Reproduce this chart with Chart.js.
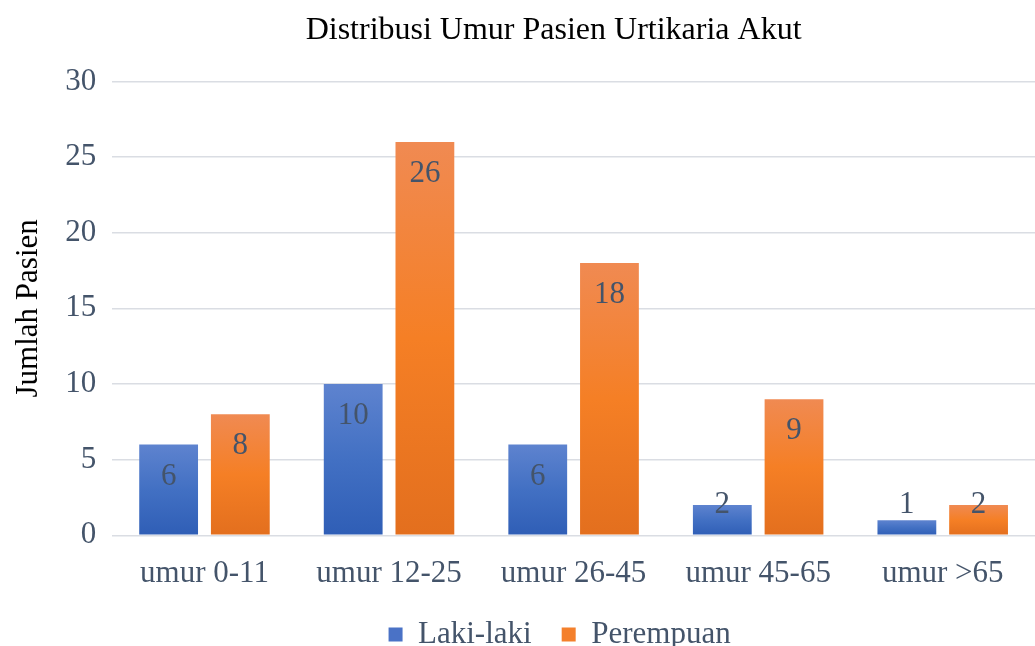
<!DOCTYPE html>
<html>
<head>
<meta charset="utf-8">
<script src="https://cdn.jsdelivr.net/npm/chart.js@4/dist/chart.umd.min.js"></script>
<style>
  html, body { margin: 0; padding: 0; background: #fff; }
</style>
</head>
<body>
<canvas id="chartUmur" width="1035" height="646"></canvas>
<script>
var categories = ['umur 0-11', 'umur 12-25', 'umur 26-45', 'umur 45-65', 'umur >65'];
var lakiLaki = [6, 10, 6, 2, 1];
var perempuan = [8, 26, 18, 9, 2];
var yTicks = [0, 5, 10, 15, 20, 25, 30];

var serif = '"Liberation Serif", "Times New Roman", serif';
var textColor = '#44546A';

function barGradient(colors) {
  return function(c) {
    var chart = c.chart;
    if (!chart.chartArea || c.raw === undefined) return colors[1];
    var y = chart.scales.y;
    var top = y.getPixelForValue(c.raw);
    var bottom = y.getPixelForValue(0);
    if (bottom - top < 1) return colors[1];
    var g = chart.ctx.createLinearGradient(0, top, 0, bottom);
    g.addColorStop(0, colors[0]);
    g.addColorStop(0.5, colors[1]);
    g.addColorStop(1, colors[2]);
    return g;
  };
}

// labels drawn just inside the top of each bar
var valueLabels = {
  id: 'valueLabels',
  afterDatasetsDraw: function(chart) {
    var ctx = chart.ctx;
    var base = chart.scales.y.getPixelForValue(0);
    ctx.save();
    ctx.font = '31px ' + serif;
    ctx.fillStyle = textColor;
    ctx.textAlign = 'center';
    ctx.textBaseline = 'middle';
    chart.data.datasets.forEach(function(ds, i) {
      chart.getDatasetMeta(i).data.forEach(function(bar, j) {
        var y = Math.min(bar.y + 32, base - 30);
        ctx.fillText(ds.data[j], bar.x, y);
      });
    });
    ctx.restore();
  }
};

// nudge title and legend a bit left, like the original
var nudgeBlocks = {
  id: 'nudgeBlocks',
  afterLayout: function(chart) {
    if (chart.titleBlock) chart.titleBlock.left -= 40;
    if (chart.legend) chart.legend.left -= 28;
  }
};

var ctx = document.getElementById('chartUmur').getContext('2d');
var chartUmur = new Chart(ctx, {
  type: 'bar',
  data: {
    labels: categories,
    datasets: [
      {
        label: 'Laki-laki',
        data: lakiLaki,
        backgroundColor: barGradient(['#5E83CF', '#4270C3', '#2F5EB6'])
      },
      {
        label: 'Perempuan',
        data: perempuan,
        backgroundColor: barGradient(['#F08A52', '#F57F25', '#E36F1E'])
      }
    ]
  },
  options: {
    responsive: false,
    animation: false,
    layout: { padding: { left: 10, right: 0, top: 2, bottom: 0 } },
    datasets: {
      bar: { categoryPercentage: 0.777, barPercentage: 0.82 }
    },
    plugins: {
      title: {
        display: true,
        fullSize: false,
        text: 'Distribusi Umur Pasien Urtikaria Akut',
        color: '#000',
        font: { family: serif, size: 32, weight: 'normal' },
        padding: { top: 9, bottom: 32 }
      },
      legend: {
        position: 'bottom',
        fullSize: false,
        maxHeight: 57,
        labels: {
          color: textColor,
          font: { family: serif, size: 31 },
          boxWidth: 14,
          boxHeight: 14,
          padding: 30,
          generateLabels: function(chart) {
            var solid = ['#4A72C6', '#F4802C'];
            return chart.data.datasets.map(function(ds, i) {
              return {
                text: ds.label,
                fillStyle: solid[i],
                strokeStyle: solid[i],
                lineWidth: 0,
                datasetIndex: i,
                fontColor: textColor
              };
            });
          }
        }
      },
      tooltip: { enabled: false }
    },
    scales: {
      x: {
        grid: { display: false },
        border: { display: false },
        afterFit: function(axis) { axis.height -= 15.5; },
        ticks: {
          color: textColor,
          font: { family: serif, size: 31 },
          padding: 12
        }
      },
      y: {
        min: 0,
        max: 30,
        afterBuildTicks: function(axis) {
          axis.ticks = yTicks.map(function(v) { return { value: v }; });
        },
        grid: { color: '#DADDE3', lineWidth: 1.5, drawTicks: false },
        border: { display: false },
        ticks: {
          color: textColor,
          font: { family: serif, size: 31 },
          padding: 16
        },
        title: {
          display: true,
          text: 'Jumlah Pasien',
          color: '#000',
          font: { family: serif, size: 31 },
          padding: { top: 0, bottom: 2 }
        }
      }
    }
  },
  plugins: [valueLabels, nudgeBlocks]
});
</script>
</body>
</html>
